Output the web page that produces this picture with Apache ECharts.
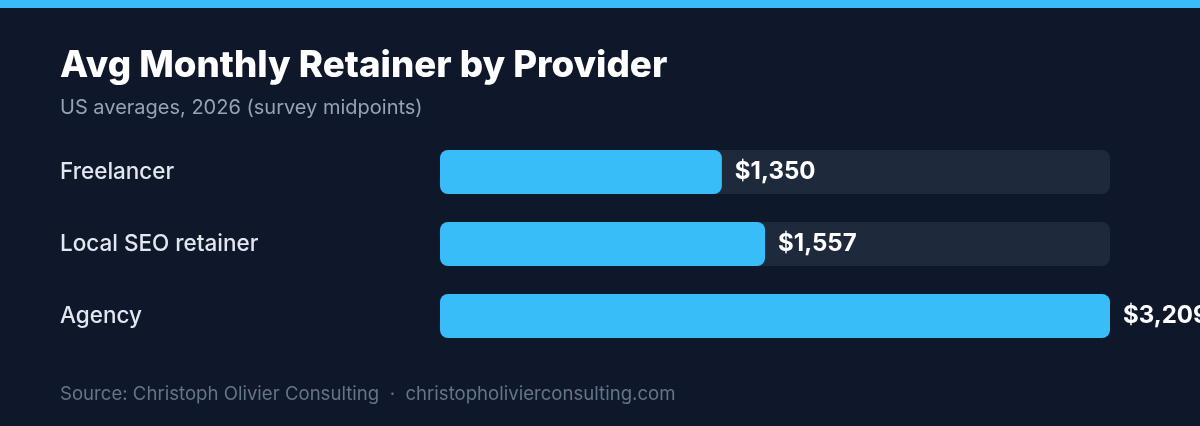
<!DOCTYPE html>
<html>
<head>
<meta charset="utf-8">
<script src="https://cdn.jsdelivr.net/npm/echarts@6/dist/echarts.min.js"></script>
<style>
	html, body { margin: 0; padding: 0; background: #0f172a; }
	#chart { width: 1200px; height: 426px; }
</style>
</head>
<body>
<div id="chart"></div>
<script>
	// 数据
	var providers = ['Freelancer', 'Local SEO retainer', 'Agency'];
	var retainers = [1350, 1557, 3209];
	var axisMax = 3209;

	function money(v) {
		return '$' + v.toLocaleString('en-US');
	}

	var option = {
		backgroundColor: '#0f172a',
		animation: false,
		title: [{
			text: 'Avg Monthly Retainer by Provider',
			left: 60,
			top: 47,
			padding: 0,
			textStyle: {
				fontFamily: 'Inter',
				fontSize: 36.7,
				fontWeight: 800,
				color: '#ffffff'
			}
		}, {
			text: 'US averages, 2026 (survey midpoints)',
			left: 60,
			top: 98,
			padding: 0,
			textStyle: {
				fontFamily: 'Inter',
				fontSize: 20,
				fontWeight: 'normal',
				color: '#94a3b8'
			}
		}, {
			text: 'Source: Christoph Olivier Consulting  ·  christopholivierconsulting.com',
			left: 60,
			top: 385,
			padding: 0,
			textStyle: {
				fontFamily: 'Inter',
				fontSize: 18.6,
				fontWeight: 'normal',
				color: '#64748b'
			}
		}],
		graphic: [{
			type: 'rect',
			left: 0,
			top: 0,
			shape: { width: 1200, height: 8 },
			style: { fill: '#38bdf8' }
		}],
		grid: {
			left: 440,
			right: 90,
			top: 136,
			bottom: 74
		},
		xAxis: {
			type: 'value',
			min: 0,
			max: axisMax,
			show: false
		},
		yAxis: {
			type: 'category',
			inverse: true,
			data: providers,
			axisLine: { show: false },
			axisTick: { show: false },
			axisLabel: {
				align: 'left',
				margin: 380,
				padding: [11, 0, 0, 0],
				fontFamily: 'Inter',
				fontSize: 22.5,
				fontWeight: 500,
				color: '#e2e8f0'
			}
		},
		series: [{
			type: 'bar',
			data: retainers,
			barWidth: 44,
			showBackground: true,
			backgroundStyle: {
				color: '#1e293b',
				borderRadius: 8
			},
			itemStyle: {
				color: '#38bdf8',
				borderRadius: 8
			},
			label: {
				show: true,
				position: 'right',
				distance: 13,
				padding: [11, 0, 0, 0],
				formatter: function(p) { return money(p.value); },
				fontFamily: 'Inter',
				fontSize: 24,
				fontWeight: 'bold',
				color: '#ffffff'
			}
		}]
	};

	echarts.init(document.getElementById('chart')).setOption(option);
</script>
</body>
</html>
